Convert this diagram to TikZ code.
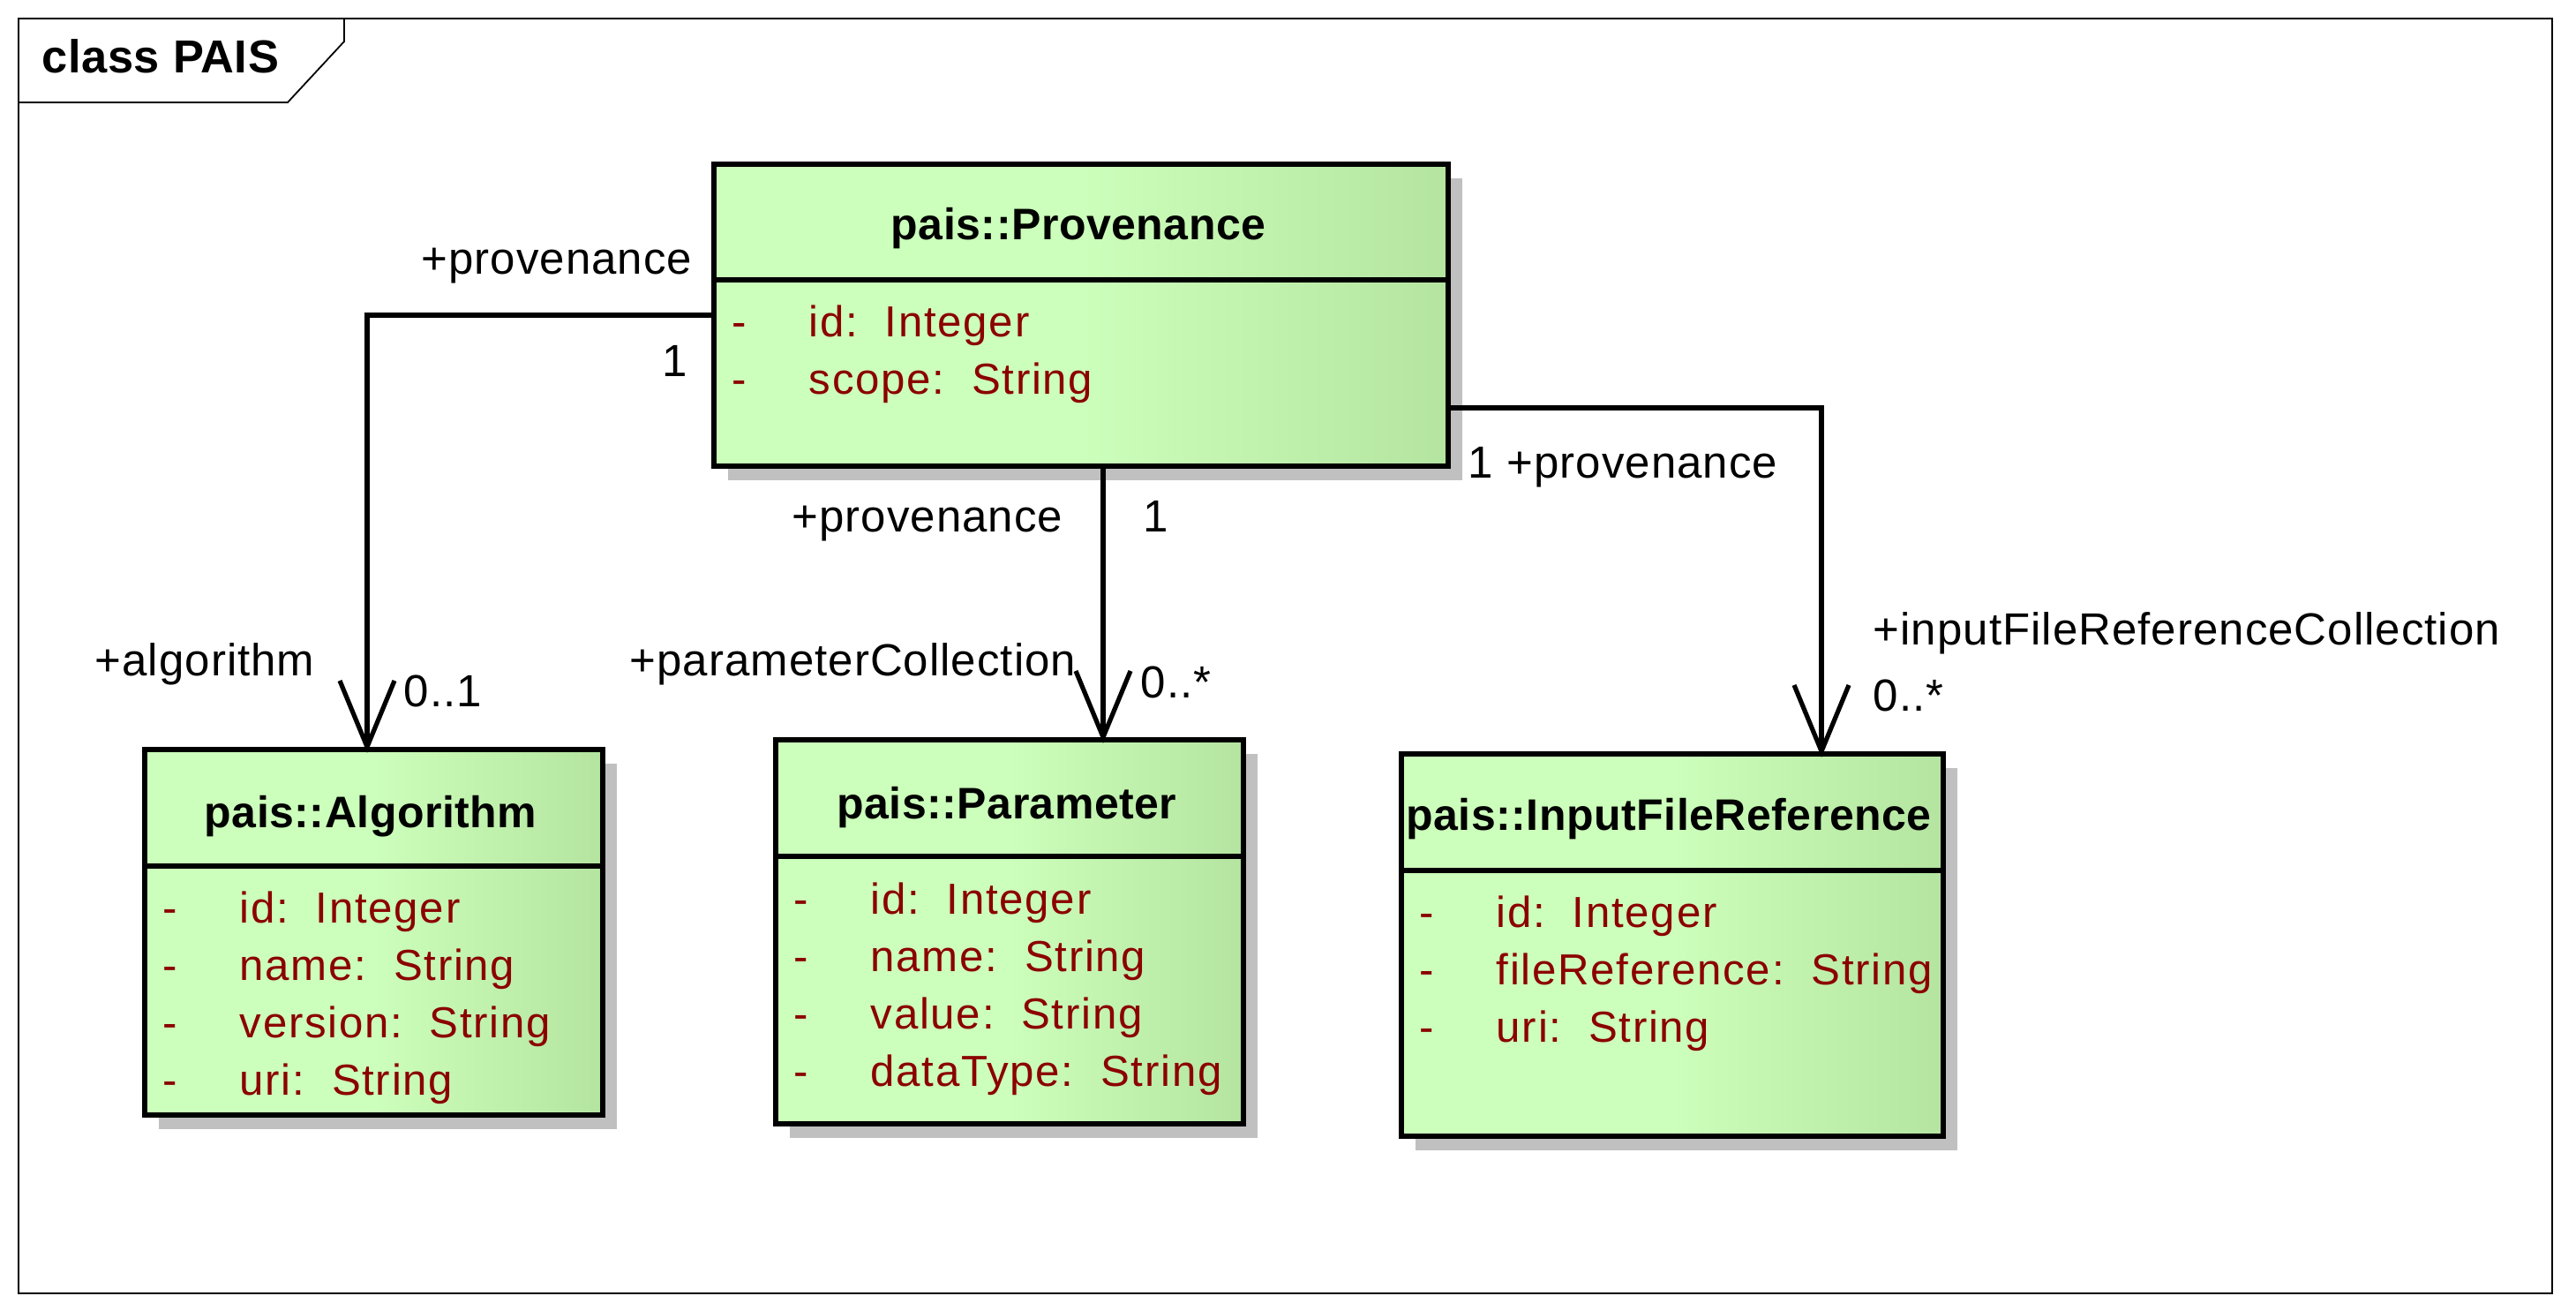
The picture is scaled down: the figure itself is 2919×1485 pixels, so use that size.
\documentclass[tikz,border=0pt]{standalone}
\usepackage{fontspec}
\setmainfont{Liberation Sans}
\newfontfamily\lblfont[LetterSpace=2]{Liberation Sans}
\newfontfamily\attrfont[LetterSpace=3.5]{Liberation Sans}
\newfontfamily\ttlfont[LetterSpace=1]{Liberation Sans}
\usetikzlibrary{shadows}
\definecolor{gL}{RGB}{204,255,187}
\definecolor{gD}{RGB}{180,228,160}
\definecolor{shadowgray}{RGB}{192,192,192}
\definecolor{attrred}{RGB}{139,0,0}
\pgfdeclarehorizontalshading{umlgreen}{100bp}{color(0bp)=(gL); color(25bp)=(gL); color(50bp)=(gL); color(75bp)=(gD); color(100bp)=(gD)}
\newcommand\umlclassbox[5]{\node[umlclass, minimum width={(#4-#2)*0.25pt}, minimum height={(#5-#3)*0.25pt}] (#1) at (#2,#3) {};}
\begin{document}
\begin{tikzpicture}[x=0.25pt,y=-0.25pt,
  umlclass/.style={draw=black, line width=1.4pt, shading=umlgreen, rectangle, inner sep=0pt, anchor=north west,
    general shadow={fill=shadowgray, shadow xshift=4pt, shadow yshift=-4pt}},
  divider/.style={line width=1.4pt},
  conn/.style={line width=1.3pt, line join=miter},
  framestyle/.style={line width=0.45pt},
  ttl/.style={font=\ttlfont\bfseries\fontsize{12.5pt}{15pt}\selectfont, anchor=base, inner sep=0pt},
  attr/.style={font=\attrfont\fontsize{12.3pt}{15pt}\selectfont, text=attrred, anchor=base west, inner sep=0pt},
  vismark/.style={font=\attrfont\fontsize{12.3pt}{15pt}\selectfont, text=attrred, anchor=base, inner sep=0pt},
  lbl/.style={font=\lblfont\fontsize{12.75pt}{15pt}\selectfont, inner sep=0pt},
]
\useasboundingbox (0,0) rectangle (2919,1485);
% frame
\draw[framestyle] (21,21) rectangle (2892,1465);
\draw[framestyle] (21,116) -- (326,116) -- (390,47) -- (390,21);
\node[font=\ttlfont\bfseries\fontsize{13.1pt}{15pt}\selectfont, anchor=base west, inner sep=0pt] (frametitle) at (47,83) {class PAIS};

% classes
\umlclassbox{prov}{806}{183}{1638}{525}
\umlclassbox{alg}{161}{846}{680}{1260}
\umlclassbox{par}{876}{835}{1406}{1270}
\umlclassbox{ifr}{1585}{851}{2199}{1284}

\draw[divider] (prov.west |- 0,317) -- (prov.east |- 0,317);
\draw[divider] (alg.west |- 0,981) -- (alg.east |- 0,981);
\draw[divider] (par.west |- 0,970) -- (par.east |- 0,970);
\draw[divider] (ifr.west |- 0,986) -- (ifr.east |- 0,986);

% Provenance
\node[ttl] (provt) at (1222,272) {pais::Provenance};
\node[vismark] (provd1) at (838,382) {-};
\node[attr] (prova1) at (916,382) {id:\ \ Integer};
\node[vismark] (provd2) at (838,447) {-};
\node[attr] (prova2) at (916,447) {scope:\ \ String};

% Algorithm
\node[ttl] (algt) at (420,937) {pais::Algorithm};
\node[vismark] (algd1) at (193,1045) {-};
\node[attr] (alga1) at (271,1045) {id:\ \ Integer};
\node[vismark] (algd2) at (193,1110) {-};
\node[attr] (alga2) at (271,1110) {name:\ \ String};
\node[vismark] (algd3) at (193,1175) {-};
\node[attr] (alga3) at (271,1175) {version:\ \ String};
\node[vismark] (algd4) at (193,1240) {-};
\node[attr] (alga4) at (271,1240) {uri:\ \ String};

% Parameter
\node[ttl] (part) at (1141,927) {pais::Parameter};
\node[vismark] (pard1) at (908,1035) {-};
\node[attr] (para1) at (986,1035) {id:\ \ Integer};
\node[vismark] (pard2) at (908,1100) {-};
\node[attr] (para2) at (986,1100) {name:\ \ String};
\node[vismark] (pard3) at (908,1165) {-};
\node[attr] (para3) at (986,1165) {value:\ \ String};
\node[vismark] (pard4) at (908,1230) {-};
\node[attr] (para4) at (986,1230) {dataType:\ \ String};

% InputFileReference
\node[ttl] (ifrt) at (1891,940) {pais::InputFileReference};
\node[vismark] (ifrd1) at (1617,1050) {-};
\node[attr] (ifra1) at (1695,1050) {id:\ \ Integer};
\node[vismark] (ifrd2) at (1617,1115) {-};
\node[attr] (ifra2) at (1695,1115) {fileReference:\ \ String};
\node[vismark] (ifrd3) at (1617,1180) {-};
\node[attr] (ifra3) at (1695,1180) {uri:\ \ String};

% connectors
\coordinate (a1) at (416,357);
\draw[conn] (prov.west |- a1) -- (a1) -- (a1 |- alg.north);
\draw[conn] (a1 |- alg.north) ++(-31,-75) -- ++(31,75) -- ++(31,-75);

\coordinate (p1) at (1250,0);
\draw[conn] (p1 |- prov.south) -- (p1 |- par.north);
\draw[conn] (p1 |- par.north) ++(-31,-75) -- ++(31,75) -- ++(31,-75);

\coordinate (i1) at (2064,462);
\draw[conn] (prov.east |- i1) -- (i1) -- (i1 |- ifr.north);
\draw[conn] (i1 |- ifr.north) ++(-31,-75) -- ++(31,75) -- ++(31,-75);

% labels
\node[lbl, anchor=base east] (la1) at (785,311) {+provenance};
\node[lbl, anchor=base east] (la2) at (780,427) {1};
\node[lbl, anchor=base west] (la3) at (107,765) {+algorithm};
\node[lbl, anchor=base west] (la4) at (457,800) {0..1};

\node[lbl, anchor=base east] (lp1) at (1205,602) {+provenance};
\node[lbl, anchor=base west] (lp2) at (1295,602) {1};
\node[lbl, anchor=base east] (lp3) at (1220,765) {+parameterCollection};
\node[lbl, anchor=base west] (lp4) at (1292,790) {0..*};

\node[lbl, anchor=base west] (li1) at (1663,542) {1};
\node[lbl, anchor=base west] (li2) at (1707,542) {+provenance};
\node[lbl, anchor=base west] (li3) at (2122,730) {+inputFileReferenceCollection};
\node[lbl, anchor=base west] (li4) at (2122,805) {0..*};
\end{tikzpicture}
\end{document}
